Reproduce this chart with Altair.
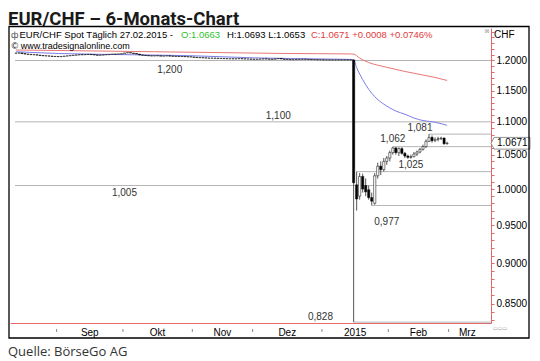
import altair as alt
import numpy as np
import pandas as pd

# ---------------- data ----------------
START = "2014-08-12"
END = "2015-02-27"

# daily closes before the SNB day (12 Aug 2014 .. 14 Jan 2015)
pre_close = [
    # Aug
    1.2125, 1.2130, 1.2118, 1.2110, 1.2105, 1.2100, 1.2098, 1.2092, 1.2085, 1.2080, 1.2078, 1.2075, 1.2070, 1.2068,
    # Sep
    1.2065, 1.2070, 1.2075, 1.2080, 1.2085, 1.2090, 1.2095, 1.2100, 1.2098, 1.2102, 1.2105, 1.2100, 1.2095, 1.2090,
    1.2092, 1.2098, 1.2100, 1.2105, 1.2110, 1.2108, 1.2112, 1.2115,
    # Oct
    1.2130, 1.2135, 1.2128, 1.2120, 1.2110, 1.2095, 1.2090, 1.2085, 1.2080, 1.2078, 1.2082, 1.2080, 1.2075, 1.2078,
    1.2080, 1.2075, 1.2072, 1.2070, 1.2068, 1.2070, 1.2065, 1.2062, 1.2060,
    # Nov
    1.2055, 1.2050, 1.2048, 1.2045, 1.2042, 1.2040, 1.2040, 1.2038, 1.2035, 1.2035, 1.2032, 1.2030, 1.2030, 1.2028,
    1.2030, 1.2032, 1.2028, 1.2025, 1.2025, 1.2022,
    # Dec
    1.2020, 1.2022, 1.2025, 1.2028, 1.2025, 1.2022, 1.2020, 1.2030, 1.2035, 1.2025, 1.2020, 1.2018, 1.2015, 1.2015,
    1.2018, 1.2020, 1.2022, 1.2020, 1.2018, 1.2015, 1.2015, 1.2012, 1.2012,
    # Jan 1..14
    1.2010, 1.2010, 1.2009, 1.2010, 1.2010, 1.2009, 1.2010, 1.2010, 1.2010, 1.2010,
]

# OHLC from 15 Jan 2015 to 27 Feb 2015
post_open = [1.2010, 1.0060, 0.9900, 1.0180, 1.0050, 0.9990, 0.9880, 0.9800, 1.0190, 1.0330, 1.0280, 1.0400,
             1.0450, 1.0530, 1.0600, 1.0530, 1.0590, 1.0520, 1.0480, 1.0460, 1.0470, 1.0510, 1.0540, 1.0580,
             1.0620, 1.0700, 1.0760, 1.0710, 1.0730, 1.0740, 1.0750, 1.0663]
post_high = [1.2010, 1.0250, 1.0230, 1.0220, 1.0150, 1.0050, 0.9950, 1.0230, 1.0380, 1.0400, 1.0450, 1.0480,
             1.0560, 1.0620, 1.0615, 1.0610, 1.0610, 1.0540, 1.0500, 1.0500, 1.0540, 1.0560, 1.0600, 1.0650,
             1.0730, 1.0810, 1.0790, 1.0760, 1.0770, 1.0770, 1.0760, 1.0693]
post_low = [0.8280, 0.9700, 0.9850, 0.9950, 0.9900, 0.9850, 0.9770, 0.9780, 1.0150, 1.0200, 1.0250, 1.0350,
            1.0400, 1.0500, 1.0500, 1.0480, 1.0500, 1.0450, 1.0440, 1.0440, 1.0460, 1.0480, 1.0520, 1.0560,
            1.0600, 1.0690, 1.0680, 1.0690, 1.0700, 1.0720, 1.0650, 1.0653]
post_close = [1.0090, 0.9860, 1.0180, 1.0000, 0.9960, 0.9880, 0.9830, 1.0190, 1.0330, 1.0280, 1.0400, 1.0450,
              1.0530, 1.0600, 1.0530, 1.0590, 1.0520, 1.0480, 1.0460, 1.0470, 1.0510, 1.0540, 1.0580, 1.0620,
              1.0700, 1.0760, 1.0710, 1.0730, 1.0740, 1.0750, 1.0663, 1.0671]

# moving averages (blue = short, red = long), read at sample dates
blue_dates = ["2014-08-12", "2014-09-01", "2014-10-01", "2014-11-03", "2014-12-01", "2015-01-02", "2015-01-14",
              "2015-01-15", "2015-01-16", "2015-01-20", "2015-01-22", "2015-01-26", "2015-01-29", "2015-02-02",
              "2015-02-04", "2015-02-09", "2015-02-12", "2015-02-17", "2015-02-23", "2015-02-27"]
blue_vals = [1.2150, 1.2120, 1.2100, 1.2080, 1.2045, 1.2025, 1.2018,
             1.2010, 1.1880, 1.1680, 1.1520, 1.1400, 1.1280, 1.1220,
             1.1170, 1.1120, 1.1060, 1.1020, 1.0995, 1.0945]
red_dates = ["2014-08-12", "2014-09-15", "2014-10-15", "2014-11-14", "2014-12-15", "2015-01-14", "2015-01-15",
             "2015-01-19", "2015-01-22", "2015-01-27", "2015-01-30", "2015-02-04", "2015-02-09", "2015-02-12",
             "2015-02-17", "2015-02-23", "2015-02-27"]
red_vals = [1.2180, 1.2165, 1.2150, 1.2135, 1.2120, 1.2112, 1.2110,
            1.2040, 1.1965, 1.1920, 1.1885, 1.1850, 1.1815, 1.1785,
            1.1755, 1.1715, 1.1665]

# support / resistance levels
level_vals = [1.200, 1.100, 1.005, 1.081, 1.062, 1.025, 0.977, 0.828]
level_text = ["1,200", "1,100", "1,005", "1,081", "1,062", "1,025", "0,977", "0,828"]
level_from = [None, None, None, "2015-02-19", "2015-02-03", "2015-01-16", "2015-01-23", "2015-01-15"]
level_label_at = ["2014-10-22", "2014-12-11", "2014-10-01", "2015-02-16", "2015-02-03", "2015-02-11",
                  "2015-01-30", "2014-12-31"]

month_names = ["Sep", "Okt", "Nov", "Dez", "2015", "Feb", "Mrz"]
month_starts = ["2014-09-01", "2014-10-01", "2014-11-01", "2014-12-01", "2015-01-01", "2015-02-01", "2015-03-01"]

y_labels = [0.85, 0.90, 0.95, 1.00, 1.05, 1.10, 1.15, 1.20]

header = [("EUR/CHF Spot Täglich  27.02.2015 - ", "black"), ("O:1.0663", "#2fbf2f"),
          ("H:1.0693 L:1.0653", "black"), ("C:1.0671 +0.0008 +0.0746%", "#e23a3a")]

# ---------------- styling / layout ----------------
W, H = 481, 295
X_MIN, X_MAX = -0.3, 155.9
Y_MIN, Y_MAX = 0.827, 1.2566
FONT = "Liberation Sans"
RED_AX = "#e46a6a"
GRID = "#b4b4b4"
LABEL_DY = {"1,200": 10, "1,100": -6, "1,005": 7, "1,081": -6, "1,062": -8, "1,025": -7, "0,977": 17, "0,828": -5}
HEADER_X = [9.5, 171, 217, 301]
HEAD_Y1, HEAD_Y2 = 7.2, 18


def idx(d):
    return float(np.busday_count(START, pd.Timestamp(d).strftime("%Y-%m-%d")))


dates = pd.bdate_range(START, END)
assert len(dates) == len(pre_close) + len(post_open)
opens = [pre_close[0]] + pre_close[:-1] + post_open
closes = pre_close + post_close
highs = [None] * len(pre_close) + post_high
lows = [None] * len(pre_close) + post_low
df = pd.DataFrame({"i": np.arange(len(dates)), "o": opens, "c": closes, "h": highs, "l": lows})
df["dir"] = np.where(df["c"] < df["o"], "down", "up")

blue = pd.DataFrame({"i": [idx(d) for d in blue_dates], "v": blue_vals})
red = pd.DataFrame({"i": [idx(d) for d in red_dates], "v": red_vals})

lv = pd.DataFrame({
    "v": level_vals, "t": level_text,
    "i0": [X_MIN if d is None else idx(d) for d in level_from],
    "il": [idx(d) for d in level_label_at],
})

bounds = [idx(d) - 0.5 for d in month_starts]
centers = [(bounds[k] + bounds[k + 1]) / 2 for k in range(len(bounds) - 1)] + [(bounds[-1] + X_MAX) / 2]
months = pd.DataFrame({"t": month_names, "b": bounds, "c": centers})

minor = [round(v, 2) for v in np.arange(0.83, 1.255, 0.01)]
label_cents = ",".join(str(int(round(v * 100))) for v in y_labels)

xscale = alt.Scale(domain=[X_MIN, X_MAX], nice=False, zero=False)
yscale = alt.Scale(type="log", domain=[Y_MIN, Y_MAX], nice=False, zero=False)
xaxis = alt.Axis(orient="bottom", domainColor=RED_AX, domainWidth=1, ticks=False, labels=False, grid=False, title=None)
yaxis = alt.Axis(orient="right", values=minor, domainColor=RED_AX, tickColor=RED_AX, tickSize=3, grid=False,
                 title=None, labelFont=FONT, labelFontSize=10, labelColor="black", labelPadding=2,
                 labelOverlap=False, labelFlush=False, labelBound=False,
                 labelExpr=f"indexof([{label_cents}], round(datum.value*100)) >= 0 ? format(datum.value, '.4f') : ''")


def X(f):
    return alt.X(f, type="quantitative", scale=xscale, axis=xaxis)


def Y(f):
    return alt.Y(f, type="quantitative", scale=yscale, axis=yaxis)


one = pd.DataFrame({"k": [0]})
layers = []

# level lines
layers.append(alt.Chart(lv).mark_rule(color=GRID, strokeWidth=1).encode(
    x=X("i0"), x2=alt.value("width"), y=Y("v")))

# moving averages
layers.append(alt.Chart(red).mark_line(color="#ea7676", strokeWidth=1, interpolate="monotone").encode(
    x=X("i"), y=Y("v")))
layers.append(alt.Chart(blue).mark_line(color="#7c7ce8", strokeWidth=1, interpolate="monotone").encode(
    x=X("i"), y=Y("v")))

# candles
wick = df[df["h"].notna()]
layers.append(alt.Chart(wick).mark_rule(color="#444444", strokeWidth=0.9).encode(
    x=X("i"), y=Y("l"), y2="h"))
layers.append(alt.Chart(df).mark_bar(size=2.2, stroke="black", strokeWidth=0.5).encode(
    x=X("i"), y=Y("o"), y2="c",
    fill=alt.Fill("dir:N", scale=alt.Scale(domain=["down", "up"], range=["black", "white"]), legend=None)))

# level labels
for k in range(len(lv)):
    row = lv.iloc[[k]]
    layers.append(alt.Chart(row).mark_text(font=FONT, fontSize=10, color="#333333", align="center",
                                           baseline="middle", dy=LABEL_DY[row["t"].iloc[0]]).encode(
        x=X("il"), y=Y("v"), text="t:N"))

# current price tag
tag = pd.DataFrame({"v": [closes[-1]], "t": [f"{closes[-1]:.4f}"]})
layers.append(alt.Chart(tag).mark_point(
    shape="M -1 0 L -0.84 -0.3 L 1 -0.3 L 1 0.3 L -0.84 0.3 Z", size=1520, filled=True,
    fill="white", stroke="#777777", strokeWidth=0.8, opacity=1).encode(
    x=alt.value(500.5), y=Y("v")))
layers.append(alt.Chart(tag).mark_text(font=FONT, fontSize=10, color="black", align="left",
                                       baseline="middle").encode(x=alt.value(487), y=Y("v"), text="t:N"))

# month ticks and labels
layers.append(alt.Chart(months).mark_rule(color="#888888", strokeWidth=1).encode(
    x=X("b"), y=alt.value(301), y2=alt.value(304)))
layers.append(alt.Chart(months).mark_text(font=FONT, fontSize=10, color="black", baseline="middle").encode(
    x=X("c"), y=alt.value(305), text="t:N"))

# texts
layers.append(alt.Chart(one).mark_text(text="EUR/CHF – 6-Monats-Chart", font="Roboto",
                                       fontSize=18.5, fontWeight="bold", color="#1a1a1a", align="left",
                                       baseline="alphabetic").encode(x=alt.value(-2), y=alt.value(-3)))
layers.append(alt.Chart(one).mark_text(text="Quelle: BörseGo AG", font="Open Sans", fontSize=13,
                                       color="#333333", align="left", baseline="middle").encode(
    x=alt.value(-2), y=alt.value(324)))
layers.append(alt.Chart(one).mark_text(text="ф", font=FONT, fontSize=9, color="#555555", align="left",
                                       baseline="middle").encode(x=alt.value(1), y=alt.value(HEAD_Y1)))
for (t, col), hx in zip(header, HEADER_X):
    layers.append(alt.Chart(one).mark_text(text=t, font=FONT, fontSize=9.5, color=col, align="left",
                                           baseline="middle").encode(x=alt.value(hx), y=alt.value(HEAD_Y1)))
layers.append(alt.Chart(one).mark_text(text="© www.tradesignalonline.com", font=FONT, fontSize=9,
                                       color="black", align="left", baseline="middle").encode(
    x=alt.value(1.5), y=alt.value(HEAD_Y2)))
layers.append(alt.Chart(one).mark_text(text="CHF", font=FONT, fontSize=10, color="black", align="left",
                                       baseline="middle").encode(x=alt.value(484), y=alt.value(HEAD_Y1)))
layers.append(alt.Chart(one).mark_text(text="⊠", font="DejaVu Sans", fontSize=6, color="#999999",
                                       align="center", baseline="middle").encode(x=alt.value(477), y=alt.value(3)))
layers.append(alt.Chart(one).mark_text(text="▭▭▭", font="DejaVu Sans", fontSize=5, color="#999999",
                                       align="left", baseline="middle").encode(x=alt.value(483), y=alt.value(300)))

# frame
layers.append(alt.Chart(one).mark_rect(fillOpacity=0, stroke="black", strokeWidth=1.3).encode(
    x=alt.value(-1), x2=alt.value(519), y=alt.value(-1.5), y2=alt.value(310)))

chart = alt.layer(*layers).properties(
    width=W, height=H,
    padding={"left": 2, "top": 20, "right": 41, "bottom": 38},
    autosize=alt.AutoSizeParams(type="none"),
    background="white",
).configure_view(stroke=None)

chart.save("out.html", embed_options={"renderer": "svg", "actions": False})
